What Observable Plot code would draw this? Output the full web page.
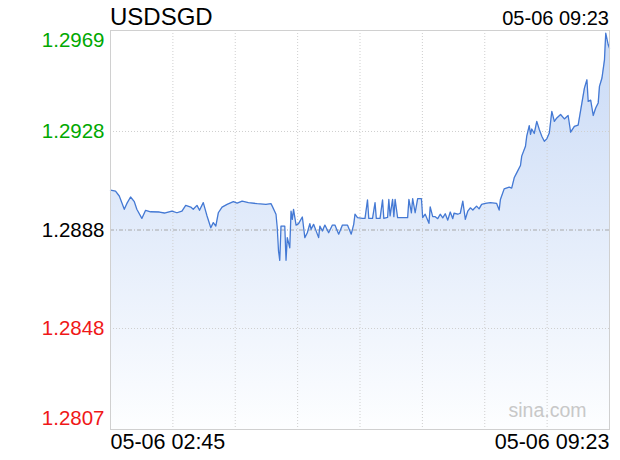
<!DOCTYPE html>
<html>
<head>
<meta charset="utf-8">
<script src="https://cdn.jsdelivr.net/npm/d3@7"></script>
<script src="https://cdn.jsdelivr.net/npm/@observablehq/plot@0.6"></script>
<style>
  body { margin:0; background:#fff; font-family:"Liberation Sans", Arial, Helvetica, sans-serif; }
  #hdr { position:relative; width:620px; height:30px; }
  #title { position:absolute; left:110px; top:5px; font-size:24px; line-height:24px; color:#000; }
  #stamp { position:absolute; right:11px; top:8px; font-size:20px; line-height:20px; color:#000; }
</style>
</head>
<body>
<div id="hdr"><span id="title"></span><span id="stamp"></span></div>
<div id="chart"></div>
<script>
const symbol = "USDSGD";
const stampLabel = "05-06 09:23";
const xLabels = ["05-06 02:45", "05-06 09:23"];
const prevClose = 1.2888;
const yTicks = [1.2969, 1.2928, 1.2888, 1.2848, 1.2807];
const yTickLabels = ["1.2969", "1.2928", "1.2888", "1.2848", "1.2807"];
const watermark = "sina.com";

const times = ["02:45","02:49","02:52","02:56","02:58","03:01","03:04","03:06","03:10","03:13",
"03:17","03:24","03:28","03:34","03:38","03:42","03:45","03:49","03:51","03:54",
"03:56","03:59","04:02","04:05","04:07","04:09","04:11","04:14","04:18","04:23",
"04:26","04:30","04:35","04:42","04:49","04:53","04:54","04:57","04:58","04:59",
"05:00","05:01","05:04","05:05","05:06","05:08","05:09","05:10","05:11","05:13",
"05:15","05:18","05:20","05:22","05:24","05:25","05:27","05:31","05:32","05:34",
"05:36","05:39","05:42","05:44","05:47","05:50","05:54","05:57","05:59","06:00",
"06:02","06:06","06:08","06:10","06:11","06:14","06:16","06:17","06:20","06:22",
"06:23","06:26","06:27","06:28","06:30","06:31","06:32","06:34","06:42","06:43",
"06:45","06:46","06:48","06:50","06:53","06:54","06:56","06:59","07:00","07:02",
"07:04","07:06","07:08","07:10","07:12","07:14","07:16","07:18","07:19","07:22",
"07:24","07:26","07:28","07:30","07:32","07:34","07:37","07:39","07:41","07:44",
"07:48","07:53","07:55","07:56","07:59","08:03","08:05","08:07","08:09","08:12",
"08:13","08:16","08:17","08:19","08:20","08:21","08:23","08:25","08:27","08:29",
"08:31","08:33","08:35","08:37","08:39","08:41","08:44","08:47","08:50","08:52",
"08:55","08:58","09:01","09:03","09:05","09:06","09:08","09:10","09:12","09:14",
"09:15","09:17","09:19","09:20","09:22","09:23"];

const prices = [1.29042,1.29038,1.29018,1.28964,1.28987,1.29014,1.28995,1.28964,1.28927,1.28960,
1.28954,1.28953,1.28949,1.28957,1.28950,1.28957,1.28980,1.28973,1.28964,1.28980,
1.28960,1.28991,1.28937,1.28889,1.28910,1.28896,1.28950,1.28973,1.28984,1.28995,
1.28989,1.28997,1.28991,1.28987,1.28984,1.28987,1.28977,1.28944,1.28889,1.28795,
1.28757,1.28896,1.28896,1.28757,1.28849,1.28808,1.28957,1.28923,1.28964,1.28900,
1.28906,1.28933,1.28849,1.28869,1.28906,1.28883,1.28903,1.28849,1.28896,1.28876,
1.28900,1.28869,1.28900,1.28900,1.28863,1.28900,1.28900,1.28863,1.28903,1.28944,
1.28930,1.28927,1.28927,1.29002,1.28927,1.28927,1.28991,1.28927,1.28927,1.29002,
1.28927,1.28931,1.29004,1.28937,1.29004,1.28934,1.29004,1.28930,1.28930,1.29004,
1.28950,1.29007,1.28950,1.29007,1.29007,1.28930,1.28944,1.28907,1.28974,1.28934,
1.28934,1.28926,1.28944,1.28929,1.28946,1.28920,1.28953,1.28926,1.28948,1.28944,
1.28948,1.28997,1.28923,1.28957,1.28970,1.28961,1.28977,1.28966,1.28984,1.28988,
1.28991,1.28988,1.28961,1.29004,1.29047,1.29054,1.29050,1.29092,1.29112,1.29142,
1.29180,1.29220,1.29261,1.29304,1.29268,1.29290,1.29272,1.29321,1.29288,1.29261,
1.29240,1.29250,1.29274,1.29362,1.29321,1.29335,1.29349,1.29331,1.29345,1.29277,
1.29301,1.29306,1.29396,1.29456,1.29490,1.29402,1.29407,1.29345,1.29375,1.29396,
1.29463,1.29497,1.29571,1.29679,1.29632,1.29618];

document.getElementById("title").textContent = symbol;
document.getElementById("stamp").textContent = stampLabel;

const parse = s => { const [h, m] = s.split(":").map(Number); return h * 60 + m; };
const data = times.map((t, i) => ({t: parse(t), p: prices[i]}));
const t0 = data[0].t, t1 = data[data.length - 1].t;
const yMax = yTicks[0], yMin = yTicks[yTicks.length - 1];
const vgrid = d3.range(1, 8).map(k => t0 + k * (t1 - t0) / 8);
const yRows = yTicks.map((v, i) => ({v, label: yTickLabels[i]}));
const colorOf = v => v > prevClose ? "#00a800" : v < prevClose ? "#f01818" : "#000";
const font = "\"Liberation Sans\", Arial, Helvetica, sans-serif";

const plot = Plot.plot({
  width: 620, height: 430,
  marginLeft: 110, marginRight: 11, marginTop: 0, marginBottom: 31,
  x: {domain: [t0, t1], axis: null},
  y: {domain: [yMin, yMax], axis: null},
  style: {fontFamily: font, background: "#fff", overflow: "visible"},
  marks: [
    Plot.areaY(data, {x: "t", y1: () => yMin, y2: "p", fill: "url(#fillGrad)"}),
    Plot.ruleX(vgrid, {stroke: "#cfcfcf", strokeDasharray: "1,2"}),
    Plot.ruleY([yTicks[1], yTicks[3]], {stroke: "#cfcfcf", strokeDasharray: "1,2"}),
    Plot.ruleY([prevClose], {stroke: "#a8a8a8", strokeDasharray: "4,2,1,2"}),
    Plot.lineY(data, {x: "t", y: "p", stroke: "#4479d4", strokeWidth: 1.3}),
    Plot.frame({stroke: "#d0d0d0"}),
    Plot.text(yRows.slice(0, 1), {y: "v", text: "label", frameAnchor: "left", textAnchor: "end", dx: -6, dy: 10, fontSize: 20.5, fill: d => colorOf(d.v)}),
    Plot.text(yRows.slice(1, 4), {y: "v", text: "label", frameAnchor: "left", textAnchor: "end", dx: -6, fontSize: 20.5, fill: d => colorOf(d.v)}),
    Plot.text(yRows.slice(4), {y: "v", text: "label", frameAnchor: "left", textAnchor: "end", dx: -6, dy: -11, fontSize: 20.5, fill: d => colorOf(d.v)}),
    Plot.text([xLabels[0]], {x: () => t0, text: d => d, frameAnchor: "bottom", textAnchor: "start", dy: 19, fontSize: 21.5, fill: "#000"}),
    Plot.text([xLabels[1]], {x: () => t1, text: d => d, frameAnchor: "bottom", textAnchor: "end", dy: 19, fontSize: 21.5, fill: "#000"}),
    Plot.text([watermark], {text: d => d, frameAnchor: "bottom-right", textAnchor: "end", dx: -23, dy: -13, fontSize: 19.5, fill: "#c8c8c8"})
  ]
});

const ns = "http://www.w3.org/2000/svg";
const defs = document.createElementNS(ns, "defs");
const grad = document.createElementNS(ns, "linearGradient");
grad.setAttribute("id", "fillGrad");
grad.setAttribute("x1", "0"); grad.setAttribute("y1", "0");
grad.setAttribute("x2", "0"); grad.setAttribute("y2", "1");
[["0", "#c9daf6"], ["1", "#fdfeff"]].forEach(([o, c]) => {
  const s = document.createElementNS(ns, "stop");
  s.setAttribute("offset", o); s.setAttribute("stop-color", c);
  grad.appendChild(s);
});
defs.appendChild(grad);
plot.insertBefore(defs, plot.firstChild);
document.getElementById("chart").appendChild(plot);
</script>
</body>
</html>
